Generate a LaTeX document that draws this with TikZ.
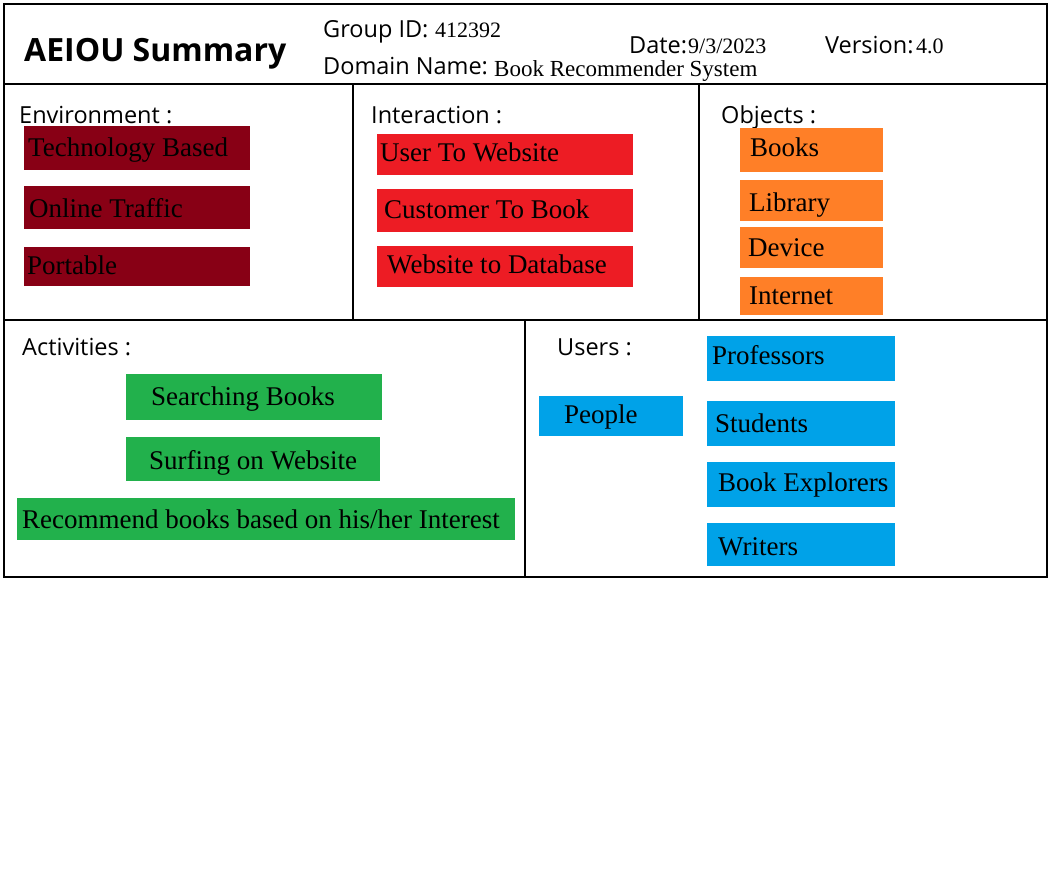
\documentclass[tikz,border=0pt]{standalone}
\usepackage{fontspec}
\setmainfont{Liberation Serif}
\newfontfamily\uifont{Open Sans}

\definecolor{envcol}{HTML}{880015}
\definecolor{intcol}{HTML}{ED1C24}
\definecolor{objcol}{HTML}{FF7F27}
\definecolor{actcol}{HTML}{22B14C}
\definecolor{usrcol}{HTML}{00A2E8}

\tikzset{
  panel/.style={draw=black, line width=2pt},
  tag/.style={inner sep=0pt, outer sep=0pt, anchor=north west},
  tagtext/.style={anchor=base west, inner sep=0pt, font=\fontsize{27}{30}\selectfont},
  heading/.style={anchor=base west, inner sep=0pt, font=\uifont\fontsize{23.5}{26}\selectfont},
  value/.style={anchor=base west, inner sep=0pt, font=\fontsize{22}{25}\selectfont},
}

% coloured item: name, colour, x1, y1, x2, y2, text x, baseline y, text
\newcommand\tagitem[9]{%
  \node[tag, fill=#2, minimum width=#5-#3, minimum height=#6-#4] (#1) at (#3,#4) {};
  \node[tagtext] (#1-t) at (#7,#8) {#9};
}

\begin{document}
\begin{tikzpicture}[x=1pt, y=-1pt]
  \fill[white] (0,0) rectangle (1056,894);
  \useasboundingbox (0,0) rectangle (1056,894);

  % frame: header, top row, bottom row
  \draw[panel] (4,4) rectangle (1047,84);
  \draw[panel] (4,84) rectangle (1047,320);
  \draw[panel] (353,84) -- (353,320);
  \draw[panel] (699,84) -- (699,320);
  \draw[panel] (4,320) rectangle (1047,577);
  \draw[panel] (525,320) -- (525,577);

  % header
  \node[anchor=base west, inner sep=0pt, font=\uifont\bfseries\fontsize{32}{36}\selectfont] (title) at (24,61) {AEIOU Summary};
  \node[heading] (gid) at (323,37) {Group ID:};
  \node[value] (gidv) at (435,37) {412392};
  \node[heading] (dom) at (323,74) {Domain Name:};
  \node[value, font=\fontsize{23}{26}\selectfont] (domv) at (494,76) {Book Recommender System};
  \node[heading] (date) at (629,53) {Date:};
  \node[value] (datev) at (688,53) {9/3/2023};
  \node[heading] (ver) at (825,53) {Version:};
  \node[value] (verv) at (916,53) {4.0};

  % section headings
  \node[heading] (envh) at (19,123) {Environment :};
  \node[heading] (inth) at (371,123) {Interaction :};
  \node[heading] (objh) at (721,123) {Objects :};
  \node[heading] (acth) at (22,355) {Activities :};
  \node[heading] (usrh) at (557,355) {Users :};

  % Environment
  \tagitem{env1}{envcol}{24}{126}{250}{170}{28}{156}{Technology Based}
  \tagitem{env2}{envcol}{24}{186}{250}{229}{29}{217}{Online Traffic}
  \tagitem{env3}{envcol}{24}{247}{250}{286}{27}{274}{Portable}

  % Interaction
  \tagitem{int1}{intcol}{377}{134}{633}{175}{380}{161}{User To Website}
  \tagitem{int2}{intcol}{377}{189}{633}{232}{384}{218}{Customer To Book}
  \tagitem{int3}{intcol}{377}{246}{633}{287}{387}{273}{Website to Database}

  % Objects
  \tagitem{obj1}{objcol}{740}{128}{883}{172}{750}{156}{Books}
  \tagitem{obj2}{objcol}{740}{180}{883}{221}{749}{211}{Library}
  \tagitem{obj3}{objcol}{740}{227}{883}{268}{748}{256}{Device}
  \tagitem{obj4}{objcol}{740}{277}{883}{315}{749}{304}{Internet}

  % Activities
  \tagitem{act1}{actcol}{126}{374}{382}{420}{151}{405}{Searching Books}
  \tagitem{act2}{actcol}{126}{437}{380}{481}{149}{469}{Surfing on Website}
  \tagitem{act3}{actcol}{17}{498}{515}{540}{22}{528}{Recommend books based on his/her Interest}

  % Users
  \tagitem{usr0}{usrcol}{539}{396}{683}{436}{564}{423}{People}
  \tagitem{usr1}{usrcol}{707}{336}{895}{381}{712}{364}{Professors}
  \tagitem{usr2}{usrcol}{707}{401}{895}{446}{715}{432}{Students}
  \tagitem{usr3}{usrcol}{707}{462}{895}{507}{718}{491}{Book Explorers}
  \tagitem{usr4}{usrcol}{707}{523}{895}{566}{718}{555}{Writers}
\end{tikzpicture}
\end{document}
